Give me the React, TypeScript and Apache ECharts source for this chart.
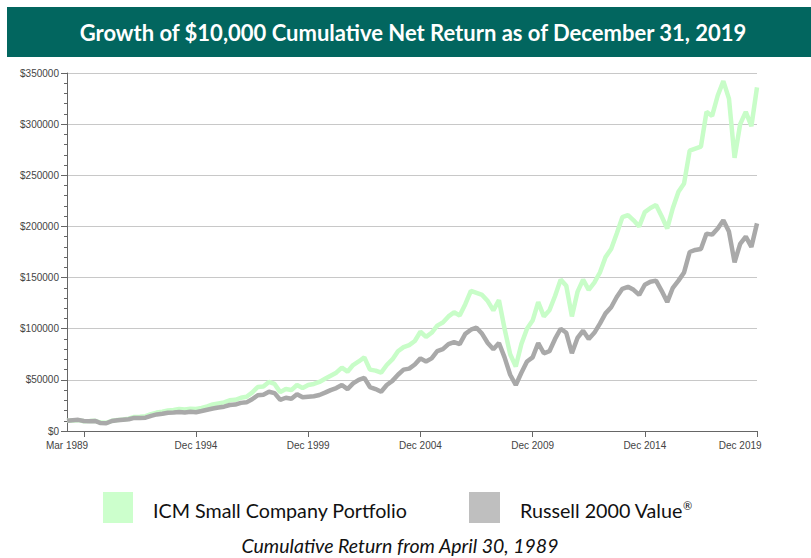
import { useEffect, useRef } from "react";
import * as echarts from "echarts";

// ---- data (quarter-end values, USD) ----
const firstYear = 1989;
const lastYear = 2019;
const quarterMonths = ["Mar", "Jun", "Sep", "Dec"];

const icmSmallCompany = [
  10000, 10300, 10600, 9600,
  9700, 10000, 8200, 8000,
  10000, 10800, 11200, 12000,
  13800, 14000, 14500, 16500,
  18000, 18800, 20000, 20500,
  21500, 21000, 21800, 21500,
  22500, 24000, 26000, 27000,
  28000, 30000, 30500, 32500,
  33500, 37500, 43000, 43500,
  48000, 46000, 38000, 41000,
  40000, 45000, 42000, 45000,
  46000, 48000, 51000, 54000,
  57000, 62000, 58000, 64500,
  68000, 72000, 60000, 59000,
  57000, 64500, 70000, 78000,
  82000, 84000, 88000, 97000,
  92000, 96000, 103000, 106000,
  112000, 116000, 113000, 124000,
  137000, 135000, 133000, 127000,
  118000, 128000, 100000, 75000,
  63000, 85000, 100000, 108000,
  126000, 112000, 118000, 132000,
  148000, 142000, 112000, 136000,
  148000, 138000, 145000, 155000,
  170000, 178000, 193000, 209000,
  211000, 206000, 200000, 214000,
  218000, 221000, 210000, 198000,
  218000, 234000, 242000, 274000,
  276000, 278000, 312000, 308000,
  328000, 342000, 325000, 267000,
  300000, 312000, 298000, 336000,
];

const russell2000Value = [
  10000, 10600, 10900, 9800,
  9500, 9800, 7800, 7600,
  9800, 10500, 11000, 11500,
  12800, 12600, 13000, 14800,
  16200, 16800, 17800, 18000,
  18500, 18000, 18800, 18300,
  19500, 20800, 22000, 23000,
  23800, 25400, 25800, 27500,
  28000, 31000, 35000, 35500,
  38400, 37000, 30500, 32500,
  31500, 36000, 33000, 33500,
  34000, 35200, 37500, 40000,
  42000, 45000, 41000, 46600,
  50000, 52000, 43000, 41000,
  38400, 45000, 49000, 55000,
  60000, 61000, 65000, 71000,
  68000, 71000, 78000, 80000,
  85000, 87000, 85000, 95000,
  99000, 101000, 95000, 86000,
  80000, 86000, 72000, 55000,
  45000, 57000, 68000, 72000,
  86000, 76000, 78000, 90000,
  100000, 96000, 76000, 91000,
  98000, 90000, 96000, 105000,
  115000, 121000, 131000, 139000,
  141000, 138000, 133000, 143000,
  146000, 147000, 137000, 126000,
  140000, 147000, 155000, 175000,
  177000, 178000, 193000, 192000,
  198000, 206000, 195000, 165000,
  183000, 190000, 180000, 203000,
];

const xTickIndices = [3, 23, 43, 63, 83, 103, 123];
const xLabelIndices = [0, 23, 43, 63, 83, 103, 120];
const xLabels = ["Mar 1989", "Dec 1994", "Dec 1999", "Dec 2004", "Dec 2009", "Dec 2014", "Dec 2019"];

const yMin = 0;
const yMax = 350000;
const yStep = 50000;

const titleText = "Growth of $10,000 Cumulative Net Return as of December 31, 2019";
const seriesNames = ["ICM Small Company Portfolio", "Russell 2000 Value"];
const captionText = "Cumulative Return from April 30, 1989";

const categories: string[] = [];
for (let y = firstYear; y <= lastYear; y++) {
  for (const m of quarterMonths) categories.push(`${m} ${y}`);
}

const GREEN = "#c8fdc8";
const GREEN_SWATCH = "#ccffcc";
const GRAY = "#a9a9a9";
const GRAY_SWATCH = "#bfbfbf";
const TEAL = "#02665f";
const UI_FONT = "Lato, 'Open Sans', sans-serif";
const AXIS_FONT = "'Liberation Sans', Arial, sans-serif";

export default function App() {
  const ref = useRef<HTMLDivElement>(null);

  useEffect(() => {
    document.body.style.margin = "0";
    if (!ref.current) return;
    const chart = echarts.init(ref.current, null, { renderer: "svg" });
    chart.setOption({
      animation: false,
      backgroundColor: "#ffffff",
      grid: { left: 67, right: 54, top: 73, bottom: 127, containLabel: false },
      xAxis: {
        type: "category",
        data: categories,
        boundaryGap: false,
        axisLine: { show: true, lineStyle: { color: "#666", width: 1 } },
        axisTick: {
          show: true,
          length: 6,
          interval: (i: number) => xTickIndices.includes(i),
          lineStyle: { color: "#666" },
        },
        axisLabel: {
          interval: (i: number) => xLabelIndices.includes(i),
          formatter: (_v: string, i: number) => xLabels[xLabelIndices.indexOf(i)] ?? "",
          fontFamily: AXIS_FONT,
          fontSize: 10,
          color: "#444",
          margin: 9,
        },
        splitLine: { show: false },
      },
      yAxis: {
        type: "value",
        min: yMin,
        max: yMax,
        interval: yStep,
        axisLine: { show: true, lineStyle: { color: "#666", width: 1 } },
        axisTick: { show: true, length: 6, lineStyle: { color: "#666" } },
        minorTick: { show: true, splitNumber: 5, length: 3, lineStyle: { color: "#666" } },
        axisLabel: {
          formatter: (v: number) => `$${v}`,
          fontFamily: AXIS_FONT,
          fontSize: 10,
          color: "#444",
          margin: 8,
        },
        splitLine: { show: true, lineStyle: { color: "#c8c8c8", width: 1 } },
      },
      series: [
        {
          name: seriesNames[0],
          type: "line",
          data: icmSmallCompany,
          showSymbol: false,
          lineStyle: { color: GREEN, width: 4.5 },
          itemStyle: { color: GREEN },
          z: 2,
        },
        {
          name: seriesNames[1],
          type: "line",
          data: russell2000Value,
          showSymbol: false,
          lineStyle: { color: GRAY, width: 4.5 },
          itemStyle: { color: GRAY },
          z: 3,
        },
      ],
      graphic: [
        { type: "rect", shape: { x: 7, y: 7, width: 804, height: 50 }, style: { fill: TEAL } },
        {
          type: "text",
          x: 413,
          y: 32,
          style: {
            text: titleText,
            fill: "#ffffff",
            fontFamily: UI_FONT,
            fontWeight: "bold",
            fontSize: 22,
            align: "center",
            verticalAlign: "middle",
          },
        },
        { type: "rect", shape: { x: 103, y: 492, width: 30, height: 31 }, style: { fill: GREEN_SWATCH } },
        {
          type: "text",
          x: 153,
          y: 510,
          style: {
            text: seriesNames[0],
            fill: "#111",
            fontFamily: UI_FONT,
            fontSize: 19.7,
            align: "left",
            verticalAlign: "middle",
          },
        },
        { type: "rect", shape: { x: 469, y: 492, width: 31, height: 31 }, style: { fill: GRAY_SWATCH } },
        {
          type: "text",
          x: 520,
          y: 510,
          style: {
            text: `${seriesNames[1]}{sup|®}`,
            fill: "#111",
            fontFamily: UI_FONT,
            fontSize: 19.7,
            align: "left",
            verticalAlign: "middle",
            rich: { sup: { fontSize: 11, fontFamily: UI_FONT, fill: "#111", verticalAlign: "top", padding: [0, 0, 8, 0] } },
          },
        },
        {
          type: "text",
          x: 400,
          y: 545,
          style: {
            text: captionText,
            fill: "#111",
            fontFamily: UI_FONT,
            fontStyle: "italic",
            fontSize: 19.5,
            align: "center",
            verticalAlign: "middle",
          },
        },
      ],
    });
    return () => chart.dispose();
  }, []);

  return <div ref={ref} style={{ width: 811, height: 558 }} />;
}
